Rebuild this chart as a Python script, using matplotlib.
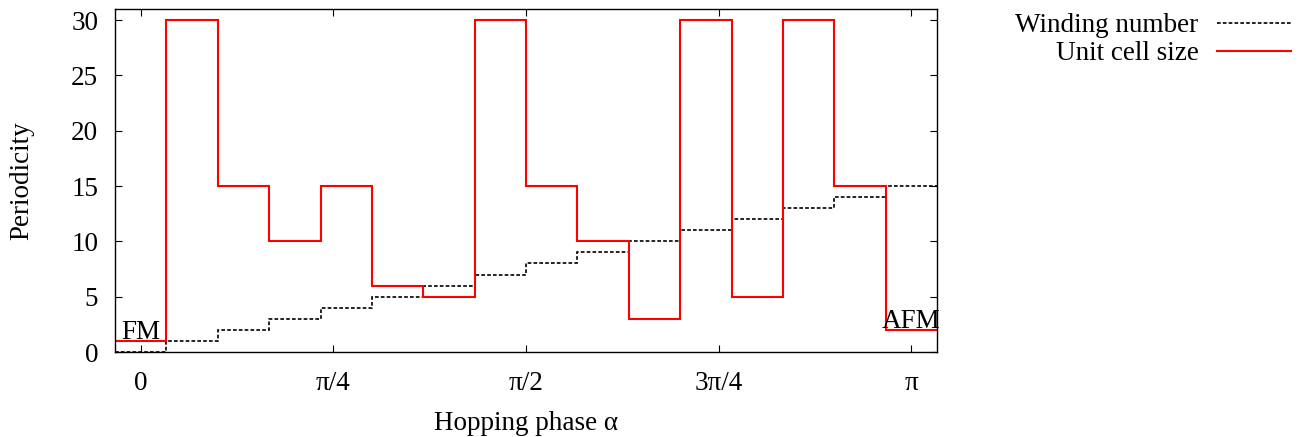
import numpy as np
import matplotlib
matplotlib.use('Agg')
import matplotlib.pyplot as plt

plt.rcParams['font.family'] = ['Liberation Serif', 'DejaVu Serif']
plt.rcParams['font.size'] = 19.5

# step index k, phase alpha = k*pi/15
k = np.arange(16)
winding = [0, 1, 2, 3, 4, 5, 6, 7, 8, 9, 10, 11, 12, 13, 14, 15]
cell_size = [1, 30, 15, 10, 15, 6, 5, 30, 15, 10, 3, 30, 5, 30, 15, 2]

step = np.pi / 15
edges = np.append(k - 0.5, k[-1] + 0.5) * step

fig = plt.figure(figsize=(13.02, 4.37), dpi=100)
ax = fig.add_axes([115/1302, 1 - 352/437, 822/1302, 343/437])

ax.stairs(winding, edges, baseline=None, color='black', lw=1.2,
          linestyle=(0, (2.2, 1.3)), label='Winding number')
ax.stairs(cell_size, edges, baseline=None, color='#ff0000', lw=1.5,
          label='Unit cell size')

ax.text(k[0] * step, cell_size[0] + 0.15, 'FM', ha='center', va='baseline')
ax.text(k[-1] * step, cell_size[-1] + 0.15, 'AFM', ha='center', va='baseline')

ax.set_xlim(edges[0], edges[-1])
ax.set_ylim(0, 31)
ax.set_xticks([0, np.pi/4, np.pi/2, 3*np.pi/4, np.pi])
ax.set_xticklabels(['0', 'π/4', 'π/2', '3π/4', 'π'])
ax.set_yticks(range(0, 31, 5))
ax.tick_params(axis='both', direction='in', top=True, right=True,
               length=5, width=0.8)
ax.tick_params(axis='x', pad=14)
ax.tick_params(axis='y', pad=12)
for s in ax.spines.values():
    s.set_linewidth(1.0)

ax.set_xlabel('Hopping phase α', va='center')
ax.xaxis.set_label_coords(0.5, (352 - 424) / 343)
ax.set_ylabel('Periodicity', va='center')
ax.yaxis.set_label_coords((22 - 115) / 822, 0.5)

fig.legend(loc='upper right', bbox_to_anchor=(1296/1302, 1 - 8/437),
           markerfirst=False, frameon=False, handlelength=2.7,
           handletextpad=0.7, labelspacing=0.1, borderpad=0.2,
           borderaxespad=0)

fig.savefig('out.png', dpi=100)
